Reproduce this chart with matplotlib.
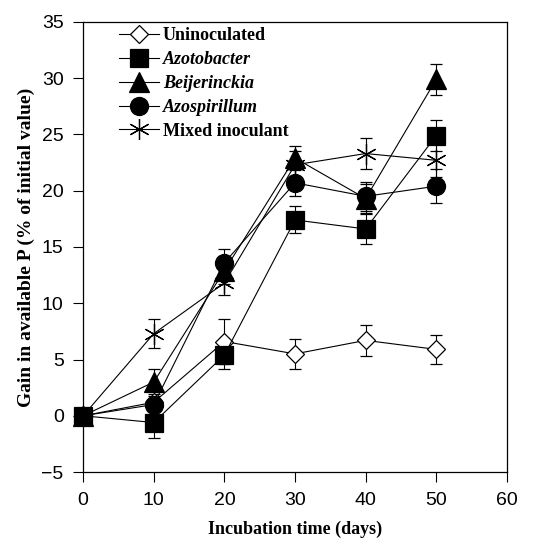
import numpy as np
import matplotlib.pyplot as plt

days = [0, 10, 20, 30, 40, 50]

unino = [0, 1.2, 6.6, 5.5, 6.7, 5.9]
unino_err = [0, 0, 2.0, 1.3, 1.4, 1.3]

azoto = [0, -0.6, 5.4, 17.4, 16.6, 24.9]
azoto_err = [0, 1.4, 1.2, 1.2, 1.3, 1.4]

beij = [0, 3.0, 12.9, 22.9, 19.3, 29.9]
beij_err = [0, 1.2, 1.2, 1.1, 1.3, 1.4]

azosp = [0, 1.0, 13.6, 20.7, 19.5, 20.4]
azosp_err = [0, 0.9, 1.2, 1.2, 1.3, 1.5]

mixed = [0, 7.3, 11.8, 22.3, 23.3, 22.7]
mixed_err = [0, 1.3, 1.1, 1.2, 1.4, 1.5]

serif = 'Liberation Serif'
sans = 'Liberation Sans'

fig = plt.figure(figsize=(5.33, 5.47), dpi=100)
ax = fig.add_axes([0.156, 0.137, 0.795, 0.823])

series = [
    (unino, unino_err, 'D', 'white', 9, 'Uninoculated', 'normal'),
    (azoto, azoto_err, 's', 'black', 13, 'Azotobacter', 'italic'),
    (beij, beij_err, '^', 'black', 14, 'Beijerinckia', 'italic'),
    (azosp, azosp_err, 'o', 'black', 13, 'Azospirillum', 'italic'),
    (mixed, mixed_err, (6, 2, 0), 'black', 15, 'Mixed inoculant', 'normal'),
]

handles = []
for vals, err, mk, fc, ms, name, style in series:
    eb = ax.errorbar(days, vals, yerr=err, color='black', lw=0.8, marker=mk,
                     mfc=fc, mec='black', ms=ms, mew=0.9, capsize=4,
                     elinewidth=0.8, capthick=0.8, clip_on=False)
    for a in eb.lines[2] + eb.lines[1]:
        a.set_clip_on(False)
    handles.append(eb.lines[0])

ax.set_xlim(0, 60)
ax.set_ylim(-5, 35)
ax.set_xticks(range(0, 61, 10))
ax.set_yticks(range(-5, 36, 5))
ax.set_yticklabels(['\u22125'] + [str(v) for v in range(0, 36, 5)])
ax.tick_params(direction='out', length=7, width=0.8, labelsize=14, pad=7)
for lab in ax.get_xticklabels() + ax.get_yticklabels():
    lab.set_fontfamily(sans)
for s in ax.spines.values():
    s.set_linewidth(0.9)

ax.set_xlabel('Incubation time (days)', fontfamily=serif, fontweight='bold',
              fontsize=13, labelpad=9)
ax.set_ylabel('Gain in available P (% of initial value)', fontfamily=serif,
              fontweight='bold', fontsize=14, labelpad=5)

leg = ax.legend(handles, [s[5] for s in series], loc='upper left',
                bbox_to_anchor=(0.06, 1.012), frameon=False, handlelength=2.2,
                handletextpad=0.2, labelspacing=0.38, borderaxespad=0.2,
                prop={'family': serif, 'weight': 'bold', 'size': 13})
for t, s in zip(leg.get_texts(), series):
    t.set_fontstyle(s[6])

fig.savefig('out.png', dpi=100)
